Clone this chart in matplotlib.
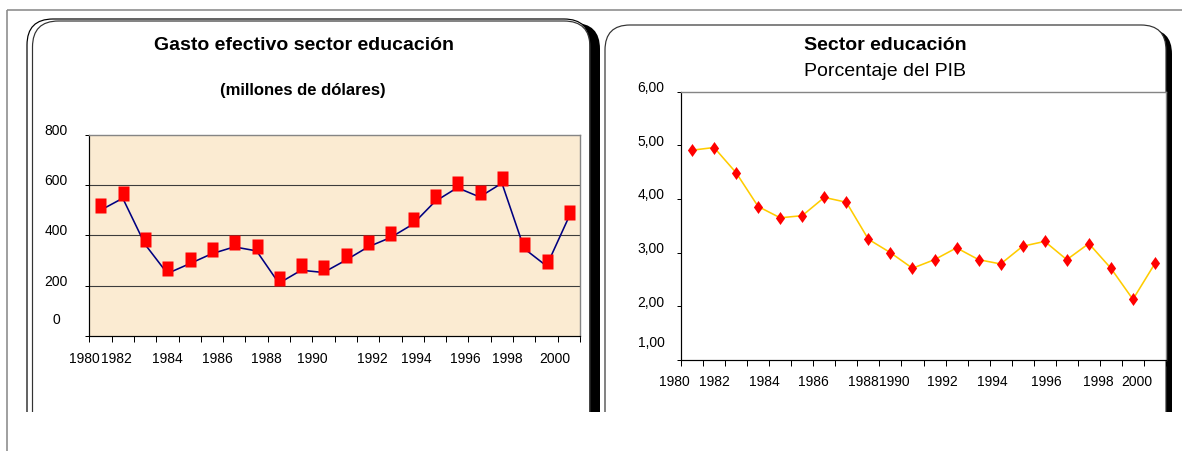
import matplotlib
matplotlib.use('Agg')
import matplotlib.pyplot as plt
import matplotlib.transforms as mtransforms
from matplotlib.patches import FancyBboxPatch, Rectangle
from matplotlib.path import Path

plt.rcParams['font.family'] = ['Liberation Sans', 'DejaVu Sans']

# ---------------- data ----------------
years = list(range(1980, 2002))
gasto = [500, 548, 364, 248, 287, 327, 354, 338, 209, 261, 252,
         301, 354, 391, 444, 535, 590, 553, 608, 347, 278, 473]
pib = [4.91, 4.96, 4.49, 3.86, 3.65, 3.69, 4.03, 3.94, 3.25, 3.00, 2.71,
       2.87, 3.09, 2.87, 2.79, 3.12, 3.21, 2.87, 3.17, 2.71, 2.13, 2.80]
year_labels = ['1980', '1982', '1984', '1986', '1988', '1990',
               '1992', '1994', '1996', '1998', '2000']
gasto_yticks = [0, 200, 400, 600, 800]
gasto_ylabels = ['0', '200', '400', '600', '800']
pib_yticks = [1, 2, 3, 4, 5, 6]
pib_ylabels = ['1,00', '2,00', '3,00', '4,00', '5,00', '6,00']
title_left = 'Gasto efectivo sector educación'
subtitle_left = '(millones de dólares)'
title_right = 'Sector educación'
subtitle_right = 'Porcentaje del PIB'

# ---------------- layout ----------------
W, H = 1182, 451
PX = 72.0 / 100  # points per pixel
fig = plt.figure(figsize=(W / 100, H / 100), dpi=100)
fig.patch.set_facecolor('white')

# label placement (fraction of category slots) as rendered in the original
left_label_pos = [-0.24, 1.2, 3.48, 5.73, 7.92, 9.99, 12.68, 14.65, 16.85, 18.73, 20.88]
right_label_pos = [-0.29, 1.51, 3.76, 6.0, 8.26, 9.68, 11.86, 14.1, 16.55, 18.92, 20.68]

# ---------- background frames ----------
ov = fig.add_axes([0, 0, 1, 1], zorder=-1)
ov.set_xlim(0, W)
ov.set_ylim(H, 0)
ov.set_axis_off()
clip = Rectangle((0, 0), W, 412, transform=ov.transData)

def frame(x, y, w, r, shadow_dx, shadow_dy, edge, inner=None):
    sh = FancyBboxPatch((x + shadow_dx, y + shadow_dy), w, 700,
                        boxstyle=f'round,pad=0,rounding_size={r}',
                        fc='black', ec='none')
    fr = FancyBboxPatch((x, y), w, 700, boxstyle=f'round,pad=0,rounding_size={r}',
                        fc='white', ec=edge, lw=1.0 * PX * 1.2)
    ps = [sh, fr]
    if inner is not None:
        ix, iy = inner
        ps.append(FancyBboxPatch((x + ix, y + iy), w - ix, 700,
                                 boxstyle=f'round,pad=0,rounding_size={r}',
                                 fc='none', ec='#333333', lw=1.0 * PX * 1.2))
    for p in ps:
        ov.add_patch(p)
        p.set_clip_path(clip)

frame(27, 19, 563, 26, 10, 4, 'black', inner=(5.5, 2))
frame(605, 25, 561, 25, 6, 4, '#333333')
ov.plot([7, W], [9.5, 9.5], color='#8a8a8a', lw=1.6 * PX, solid_capstyle='butt')
ov.plot([7, 7], [9.5, H], color='#8a8a8a', lw=1.6 * PX, solid_capstyle='butt')

# ---------- markers ----------
rect_marker = Path([(-5.5, -3.2), (5.5, -3.2), (5.5, 11.8), (-5.5, 11.8), (-5.5, -3.2)],
                   [Path.MOVETO, Path.LINETO, Path.LINETO, Path.LINETO, Path.CLOSEPOLY])
diam_marker = Path([(0, -6.5), (4.6, 0), (0, 6.5), (-4.6, 0), (0, -6.5)],
                   [Path.MOVETO, Path.LINETO, Path.LINETO, Path.LINETO, Path.CLOSEPOLY])

xpos = [i + 0.5 for i in range(len(years))]


def style_axes(ax, ylim, yticks, ylabels, label_pos, label_dy, ylab_dx, ylab_dy, low_extra):
    ax.set_xlim(0, len(years))
    ax.set_ylim(*ylim)
    ax.set_xticks(range(len(years) + 1))
    ax.tick_params(axis='x', direction='out', length=6 * PX, width=1.0 * PX,
                   labelbottom=False, color='black')
    ax.set_yticks(yticks, ylabels)
    ax.tick_params(axis='y', direction='out', length=4 * PX, width=1.0 * PX,
                   pad=(ylab_dx - 4) * PX, labelsize=10, color='black')
    for s in ('top', 'right'):
        ax.spines[s].set_color('#858585')
        ax.spines[s].set_linewidth(1.4 * PX)
    for s in ('left', 'bottom'):
        ax.spines[s].set_color('black')
        ax.spines[s].set_linewidth(1.2 * PX)
    labs = ax.get_yticklabels()
    for i, lab in enumerate(labs):
        lab.set_ha('center')
        dy = ylab_dy + (low_extra if i == 0 else 0)
        lab.set_transform(lab.get_transform() +
                          mtransforms.ScaledTranslation(0, dy / 100, fig.dpi_scale_trans))
    tr = mtransforms.offset_copy(ax.get_xaxis_transform(), fig=fig, x=0, y=-label_dy, units='dots')
    for p, t in zip(label_pos, year_labels):
        ax.text(p, 0, t, transform=tr, ha='center', va='center', fontsize=10, clip_on=False)


# ---------- left chart ----------
ax1 = fig.add_axes([89.3 / W, 1 - 335.7 / H, 490.7 / W, 200.7 / H])
ax1.set_facecolor('#FBEBD2')
style_axes(ax1, (0, 800), gasto_yticks, gasto_ylabels, left_label_pos, 23.6, 33, 5.5, 11.5)
ax1.hlines(gasto_yticks[1:-1], 0, len(years), color='#3c3c3c', lw=1.1 * PX, zorder=1)
ax1.plot(xpos, gasto, color='#000080', lw=1.6 * PX, zorder=3)
ax1.plot(xpos, gasto, ls='none', marker=rect_marker, ms=2 * 11.8 * PX,
         mfc='#FF0000', mec='none', zorder=4, clip_on=False)

# ---------- right chart ----------
ax2 = fig.add_axes([681 / W, 1 - 360 / H, 485 / W, 268.3 / H])
ax2.set_facecolor('white')
style_axes(ax2, (1, 6), pib_yticks, pib_ylabels, right_label_pos, 21.7, 30, 5.2, 13)
ax2.plot(xpos, pib, color='#FFCC00', lw=1.6 * PX, zorder=3)
ax2.plot(xpos, pib, ls='none', marker=diam_marker, ms=2 * 6.5 * PX,
         mfc='#FF0000', mec='none', zorder=4, clip_on=False)

# ---------- titles ----------
fig.text(304 / W, 1 - 45 / H, title_left, ha='center', va='center',
         fontsize=14, fontweight='bold')
fig.text(303 / W, 1 - 90 / H, subtitle_left, ha='center', va='center',
         fontsize=12, fontweight='bold')
fig.text(885 / W, 1 - 45 / H, title_right, ha='center', va='center',
         fontsize=14, fontweight='bold')
fig.text(885 / W, 1 - 72 / H, subtitle_right, ha='center', va='center',
         fontsize=14)

fig.savefig('out.png', dpi=100)
